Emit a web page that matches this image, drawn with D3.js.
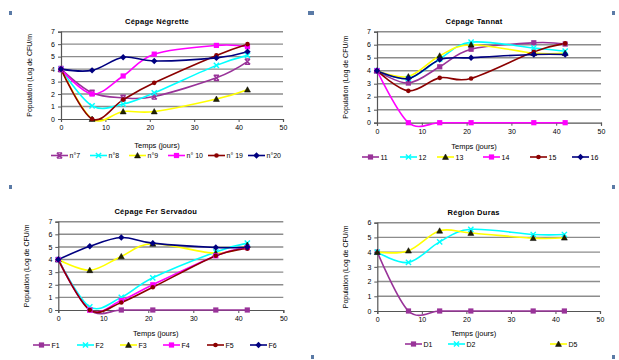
<!DOCTYPE html>
<html>
<head>
<meta charset="utf-8">
<script src="https://cdn.jsdelivr.net/npm/d3@7"></script>
<style>
  body { margin: 0; background: #fff; }
  text { font-family: "Liberation Sans", Arial, sans-serif; fill: #000; }
</style>
</head>
<body>
<div id="chart"></div>
<script>
// sampling days (x values), same for every panel
const days = [0, 7, 14, 21, 35, 42];
const xTicks = [0, 10, 20, 30, 40, 50];

// Cépage Négrette
const negretteNames = ["n°7", "n°8", "n°9", "n° 10", "n° 19", "n°20"];
const negretteValues = [
  [4, 2.1, 1.7, 1.8, 3.3, 4.6],
  [4, 1.05, 1.2, 2.1, 4.3, 5.1],
  [4, 0, 0.6, 0.6, 1.6, 2.35],
  [4, 2.0, 3.45, 5.2, 5.9, 5.8],
  [4, 0, 1.55, 2.9, 5.1, 6.0],
  [4, 3.9, 4.95, 4.65, 4.9, 5.4]
];

// Cépage Tannat
const tannatNames = ["11", "12", "13", "14", "15", "16"];
const tannatValues = [
  [4, 3.05, 4.3, 5.65, 6.15, 6.05],
  [4, 3.4, 4.9, 6.2, 5.75, 5.5],
  [4, 3.55, 5.15, 6.0, 5.35, 5.35],
  [4, 0, 0, 0, 0, 0],
  [4, 2.45, 3.45, 3.4, 5.45, 6.1],
  [4, 3.4, 4.85, 5.0, 5.25, 5.25]
];

// Cépage Fer Servadou
const ferNames = ["F1", "F2", "F3", "F4", "F5", "F6"];
const ferValues = [
  [4, 0, 0, 0, 0, 0],
  [4, 0.25, 1.0, 2.55, 4.6, 5.3],
  [4, 3.15, 4.25, 5.25, 4.5, 5.15],
  [4, 0, 0.75, 2.0, 4.3, 4.95],
  [4, 0, 0.6, 1.8, 4.3, 4.85],
  [4, 5.05, 5.75, 5.3, 4.95, 5.0]
];

// Région Duras
const durasNames = ["D1", "D2", "D5"];
const durasValues = [
  [4, 0, 0, 0, 0, 0],
  [4, 3.3, 4.7, 5.55, 5.2, 5.2],
  [4, 4.1, 5.45, 5.3, 4.95, 4.98]
];

const styles = {
  purpleStar: { color: "#993399", marker: "star" },
  purpleSq:   { color: "#993399", marker: "square" },
  cyan:       { color: "#00ffff", marker: "x" },
  yellow:     { color: "#ffff00", marker: "triangle" },
  magenta:    { color: "#ff00ff", marker: "square" },
  darkred:    { color: "#8b0000", marker: "circle" },
  navy:       { color: "#000080", marker: "diamond" }
};

const panels = [
  { title: "Cépage Négrette", names: negretteNames, values: negretteValues, ymax: 7,
    x0: 61, x1: 283, y0: 119, y1: 31.7, xLabelY: 147.5, legendY: 155.5, legendX: [51, 90, 129, 168, 208, 248],
    styles: [styles.purpleStar, styles.cyan, styles.yellow, styles.magenta, styles.darkred, styles.navy] },
  { title: "Cépage Tannat", names: tannatNames, values: tannatValues, ymax: 7,
    x0: 377, x1: 601, y0: 122.7, y1: 31.7, xLabelY: 148.5, legendY: 157, legendX: [362, 400, 437, 483, 530, 572],
    styles: [styles.purpleSq, styles.cyan, styles.yellow, styles.magenta, styles.darkred, styles.navy] },
  { title: "Cépage Fer Servadou", names: ferNames, values: ferValues, ymax: 7,
    x0: 58.3, x1: 283.3, y0: 310, y1: 221.7, xLabelY: 335.5, legendY: 345, legendX: [33, 77, 120, 163, 207, 250],
    styles: [styles.purpleSq, styles.cyan, styles.yellow, styles.magenta, styles.darkred, styles.navy] },
  { title: "Région Duras", names: durasNames, values: durasValues, ymax: 6,
    x0: 377.3, x1: 600, y0: 311, y1: 222.7, xLabelY: 335.5, legendY: 344, legendX: [405, 448, 550],
    styles: [styles.purpleSq, styles.cyan, styles.yellow] }
];

const svg = d3.select("#chart").append("svg")
  .attr("width", 619).attr("height", 360);

function drawMarker(g, type, color, cx, cy) {
  const s = 2.6;
  if (type === "square") {
    g.append("rect").attr("x", cx - s).attr("y", cy - s).attr("width", 2 * s).attr("height", 2 * s)
      .attr("fill", color);
  } else if (type === "diamond") {
    g.append("path").attr("d", `M${cx},${cy - s - 0.6}L${cx + s + 0.6},${cy}L${cx},${cy + s + 0.6}L${cx - s - 0.6},${cy}Z`)
      .attr("fill", color);
  } else if (type === "circle") {
    g.append("circle").attr("cx", cx).attr("cy", cy).attr("r", 2.3).attr("fill", color);
  } else if (type === "triangle") {
    g.append("path").attr("d", `M${cx},${cy - 3}L${cx + 3},${cy + 2.4}L${cx - 3},${cy + 2.4}Z`)
      .attr("fill", "#222200").attr("stroke", "#000").attr("stroke-width", 0.5);
  } else if (type === "x") {
    g.append("path").attr("d", `M${cx - s},${cy - s}L${cx + s},${cy + s}M${cx + s},${cy - s}L${cx - s},${cy + s}`)
      .attr("stroke", color).attr("stroke-width", 1.4);
  } else if (type === "star") {
    g.append("path").attr("d", `M${cx - s},${cy - s}L${cx + s},${cy + s}M${cx + s},${cy - s}L${cx - s},${cy + s}M${cx - s},${cy - s}L${cx + s},${cy - s}M${cx - s},${cy + s}L${cx + s},${cy + s}`)
      .attr("stroke", color).attr("stroke-width", 1.4);
  }
}

panels.forEach(p => {
  const g = svg.append("g");
  const x = d3.scaleLinear().domain([0, 50]).range([p.x0, p.x1]);
  const y = d3.scaleLinear().domain([0, p.ymax]).range([p.y0, p.y1]);

  // horizontal grid lines
  g.append("g").selectAll("line")
    .data(d3.range(1, p.ymax + 1))
    .join("line")
    .attr("x1", p.x0).attr("x2", p.x1)
    .attr("y1", d => y(d)).attr("y2", d => y(d))
    .attr("stroke", "#8c8c8c").attr("stroke-width", 1.4);

  // axes
  const yAxis = g.append("g").attr("transform", `translate(${p.x0},0)`)
    .call(d3.axisLeft(y).ticks(p.ymax).tickSize(3).tickPadding(3).tickFormat(d3.format("d")));
  const xAxis = g.append("g").attr("transform", `translate(0,${p.y0})`)
    .call(d3.axisBottom(x).tickValues(xTicks).tickSize(3).tickPadding(3));
  [yAxis, xAxis].forEach(a => {
    a.select(".domain").attr("stroke", "#555").attr("stroke-width", 1.2);
    a.selectAll(".tick line").attr("stroke", "#555");
    a.selectAll("text").style("font-size", "7px").style("font-family", "Liberation Sans, Arial");
  });

  // title and axis labels
  const midX = (p.x0 + p.x1) / 2;
  g.append("text").attr("x", midX - 15).attr("y", p.y1 - 8)
    .attr("text-anchor", "middle").style("font-size", "7.5px").style("font-weight", "bold")
    .style("letter-spacing", "0.3px").text(p.title);
  g.append("text").attr("x", midX - 15).attr("y", p.xLabelY)
    .attr("text-anchor", "middle").style("font-size", "7.5px").text("Temps (jours)");
  g.append("text")
    .attr("transform", `translate(${p.x0 - 29},${(p.y0 + p.y1) / 2}) rotate(-90)`)
    .attr("text-anchor", "middle").style("font-size", "7px").text("Population  (Log de CFU/m");

  // series
  const line = d3.line()
    .x((d, i) => x(days[i]))
    .y(d => y(d))
    .curve(d3.curveCatmullRom.alpha(0));

  p.values.forEach((vals, si) => {
    const st = p.styles[si];
    g.append("path").datum(vals)
      .attr("d", line)
      .attr("fill", "none").attr("stroke", st.color).attr("stroke-width", 1.6);
  });
  p.values.forEach((vals, si) => {
    const st = p.styles[si];
    const mg = g.append("g");
    vals.forEach((v, i) => drawMarker(mg, st.marker, st.color, x(days[i]), y(v)));
  });

  // legend
  p.names.forEach((name, si) => {
    const st = p.styles[si];
    const lx = p.legendX[si];
    const lg = g.append("g");
    lg.append("line").attr("x1", lx).attr("x2", lx + 17)
      .attr("y1", p.legendY).attr("y2", p.legendY)
      .attr("stroke", st.color).attr("stroke-width", 1.6);
    drawMarker(lg, st.marker, st.color, lx + 8.5, p.legendY);
    lg.append("text").attr("x", lx + 18.5).attr("y", p.legendY + 2.5)
      .style("font-size", "7px").text(name);
  });
});

// selection handles round the picture frames
const handles = [[10, 13], [309, 13], [312, 13], [613, 13], [10, 187], [613, 187], [312, 357], [613, 357]];
svg.append("g").selectAll("rect")
  .data(handles)
  .join("rect")
  .attr("x", d => d[0] - 1).attr("y", d => d[1] - 2)
  .attr("width", 3).attr("height", 4)
  .attr("fill", "#5a7aa6");
</script>
</body>
</html>
